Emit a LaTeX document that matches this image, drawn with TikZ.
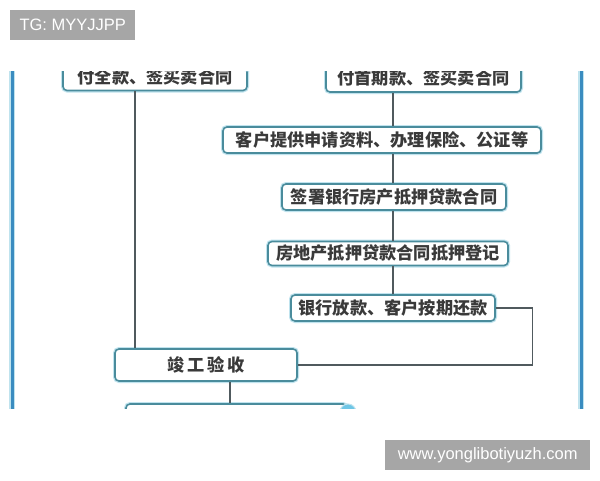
\documentclass[tikz,border=0pt]{standalone}
\usepackage{fontspec}
\newfontfamily\cjk{Noto Sans CJK SC}
\newfontfamily\wm{Liberation Sans}
\definecolor{boxline}{HTML}{4A8C9C}
\definecolor{boxglow}{HTML}{BFE3EE}
\definecolor{frameblue}{HTML}{3A8CC0}
\definecolor{wire}{HTML}{505A5E}
\definecolor{txt}{HTML}{3A3A3A}
\definecolor{wmgray}{HTML}{A6A6A6}
\definecolor{dotblue}{HTML}{6EC6E6}
\tikzset{
  flowbox/.style={draw=boxline, line width=1.6pt, rounded corners=4pt, fill=white,
    preaction={draw=boxglow, line width=4pt},
    inner sep=0pt, anchor=center, text=txt, font=\cjk\bfseries\fontsize{17.2}{19}\selectfont},
  wire/.style={draw=wire, line width=1.3pt},
  wmbox/.style={fill=wmgray, text=white, inner sep=0pt, font=\wm\fontsize{16.5}{18}\selectfont},
}
\begin{document}
\begin{tikzpicture}[x=1pt,y=-1pt]
\useasboundingbox (0,0) rectangle (600,480);
\fill[white] (0,0) rectangle (600,480);
\begin{scope}
\clip (0,71) rectangle (600,408);
\fill[white] (0,71) rectangle (600,408);
% frame lines
\draw[boxglow, line width=6pt] (12,60) -- (12,420);
\draw[frameblue, line width=3pt] (12,60) -- (12,420);
\draw[boxglow, line width=6pt] (581,60) -- (581,420);
\draw[frameblue, line width=3pt] (581,60) -- (581,420);
% boxes
\node[flowbox, minimum width=184pt, minimum height=27pt] (b1) at (155,77) {付全款、签买卖合同};
\node[flowbox, minimum width=195pt, minimum height=28pt] (b2) at (423.5,78) {付首期款、签买卖合同};
\node[flowbox, minimum width=318pt, minimum height=26pt] (b3) at (382,140) {客户提供申请资料、办理保险、公证等};
\node[flowbox, minimum width=224pt, minimum height=26pt] (b4) at (394,197) {签署银行房产抵押贷款合同};
\node[flowbox, minimum width=240pt, minimum height=24pt] (b5) at (388,253.5) {房地产抵押贷款合同抵押登记};
\node[flowbox, minimum width=204pt, minimum height=26pt] (b6) at (393,308) {银行放款、客户按期还款};
\node[flowbox, minimum width=182pt, minimum height=32pt] (b7) at (206,365) {竣\,工\,验\,收};
\node[flowbox, minimum width=221pt, minimum height=28pt] (b8) at (236.5,418) {};
\node[circle, fill=dotblue, draw=boxglow, line width=1pt, minimum size=16pt, inner sep=0pt] (d8) at (348,412) {};
\node[circle, fill=dotblue, draw=boxglow, line width=1pt, minimum size=14pt, inner sep=0pt] (d1) at (247,64) {};
% connectors
\coordinate (xa) at (393,0);
\coordinate (xb) at (135,0);
\coordinate (xc) at (230,0);
\draw[wire] (b1.south -| xb) -- (b7.north -| xb);
\draw[wire] (b2.south -| xa) -- (b3.north -| xa);
\draw[wire] (b3.south -| xa) -- (b4.north -| xa);
\draw[wire] (b4.south -| xa) -- (b5.north -| xa);
\draw[wire] (b5.south -| xa) -- (b6.north -| xa);
\draw[wire] (b6.east) -- ++(37,0) |- (b7.east);
\draw[wire] (b7.south -| xc) -- (b8.north -| xc);
\end{scope}
% watermarks
\node[wmbox, minimum width=125pt, minimum height=30pt, anchor=north west] (w1) at (10,10) {TG: MYYJJPP};
\node[wmbox, minimum width=205pt, minimum height=30pt, anchor=north west] (w2) at (385,440) {www.yonglibotiyuzh.com};
\end{tikzpicture}
\end{document}
